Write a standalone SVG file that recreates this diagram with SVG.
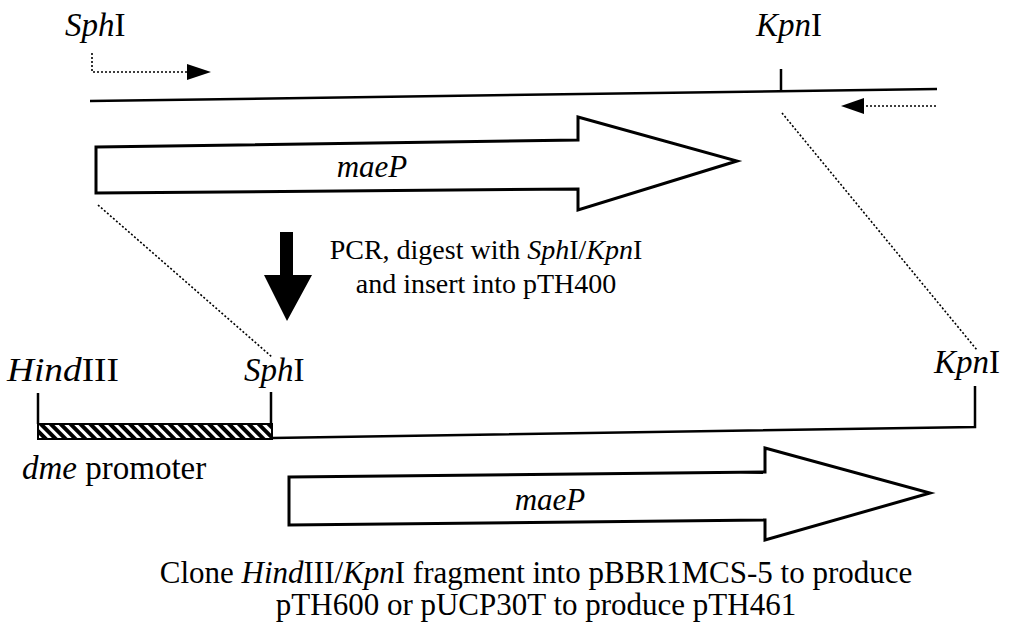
<svg xmlns="http://www.w3.org/2000/svg" width="1010" height="622" viewBox="0 0 1010 622">
<style>
text{font-family:"Liberation Serif","Times New Roman",serif;fill:#000}
.it{font-style:italic}
.lbl{font-size:33px}
.gn{font-size:31px;font-style:italic}
.cap{font-size:28px}
.fin{font-size:31px}
.line{stroke:#000;stroke-width:2.5;fill:none}
.dot{stroke:#000;stroke-width:1.6;stroke-dasharray:2 2;fill:none}
.gene{fill:#fff;stroke:#000;stroke-width:3;stroke-linejoin:miter}
</style>
<defs>
<pattern id="hatch" patternUnits="userSpaceOnUse" width="7" height="7" patternTransform="rotate(-45)">
<rect width="7" height="7" fill="#fff"/>
<rect width="4" height="7" fill="#000"/>
</pattern>
</defs>
<rect width="1010" height="622" fill="#fff"/>

<g id="top-construct">
<path class="line" d="M90,101 L937,89"/>
<path class="line" d="M781,69 L781,91"/>
<text class="lbl" x="65" y="36"><tspan class="it">Sph</tspan>I</text>
<text class="lbl" x="756" y="36"><tspan class="it">Kpn</tspan>I</text>
</g>

<g id="forward-primer">
<path class="dot" d="M92,53 L92,72 L189,72"/>
<polygon points="187,64 211,72 187,80" fill="#000"/>
</g>

<g id="reverse-primer">
<path class="dot" d="M862,106 L938,106"/>
<polygon points="864,98 841,106 864,114" fill="#000"/>
</g>

<g id="maeP-top">
<polygon class="gene" points="96,147 578,140 578,117 737,161 578,210 578,189 96,193"/>
<text class="gn" x="372" y="177" text-anchor="middle">maeP</text>
</g>

<g id="connectors">
<path class="dot" d="M98,205 L272,357"/>
<path class="dot" d="M782,113 L977,350"/>
<polygon points="280,232 293,232 293,275 312,275 287,321 264,275 280,275" fill="#000"/>
</g>

<g id="step-label">
<text class="cap" x="486" y="259" text-anchor="middle">PCR, digest with <tspan class="it">Sph</tspan>I/<tspan class="it">Kpn</tspan>I</text>
<text class="cap" x="486" y="293" text-anchor="middle">and insert into pTH400</text>
</g>

<g id="bottom-construct">
<path class="line" d="M272,438 L975,427 L975,386"/>
<path class="line" d="M38,393 L38,424"/>
<path class="line" d="M271,392 L271,424"/>
<rect x="38" y="424" width="234" height="15" fill="url(#hatch)" stroke="#000" stroke-width="2"/>
<text class="lbl" x="7" y="381" textLength="112" lengthAdjust="spacingAndGlyphs"><tspan class="it">Hind</tspan>III</text>
<text class="lbl" x="244" y="381"><tspan class="it">Sph</tspan>I</text>
<text class="lbl" x="934" y="373"><tspan class="it">Kpn</tspan>I</text>
<text class="lbl" x="22" y="479"><tspan class="it">dme</tspan> promoter</text>
</g>

<g id="maeP-bottom">
<polygon class="gene" points="289,477 765,472 765,448 930,493 765,540 765,520 289,525"/>
<text class="gn" x="550" y="510" text-anchor="middle">maeP</text>
</g>

<g id="final-label">
<text class="fin" x="536" y="583" text-anchor="middle">Clone <tspan class="it">Hind</tspan>III/<tspan class="it">Kpn</tspan>I fragment into pBBR1MCS-5 to produce</text>
<text class="fin" x="536" y="615" text-anchor="middle">pTH600 or pUCP30T to produce pTH461</text>
</g>
</svg>
